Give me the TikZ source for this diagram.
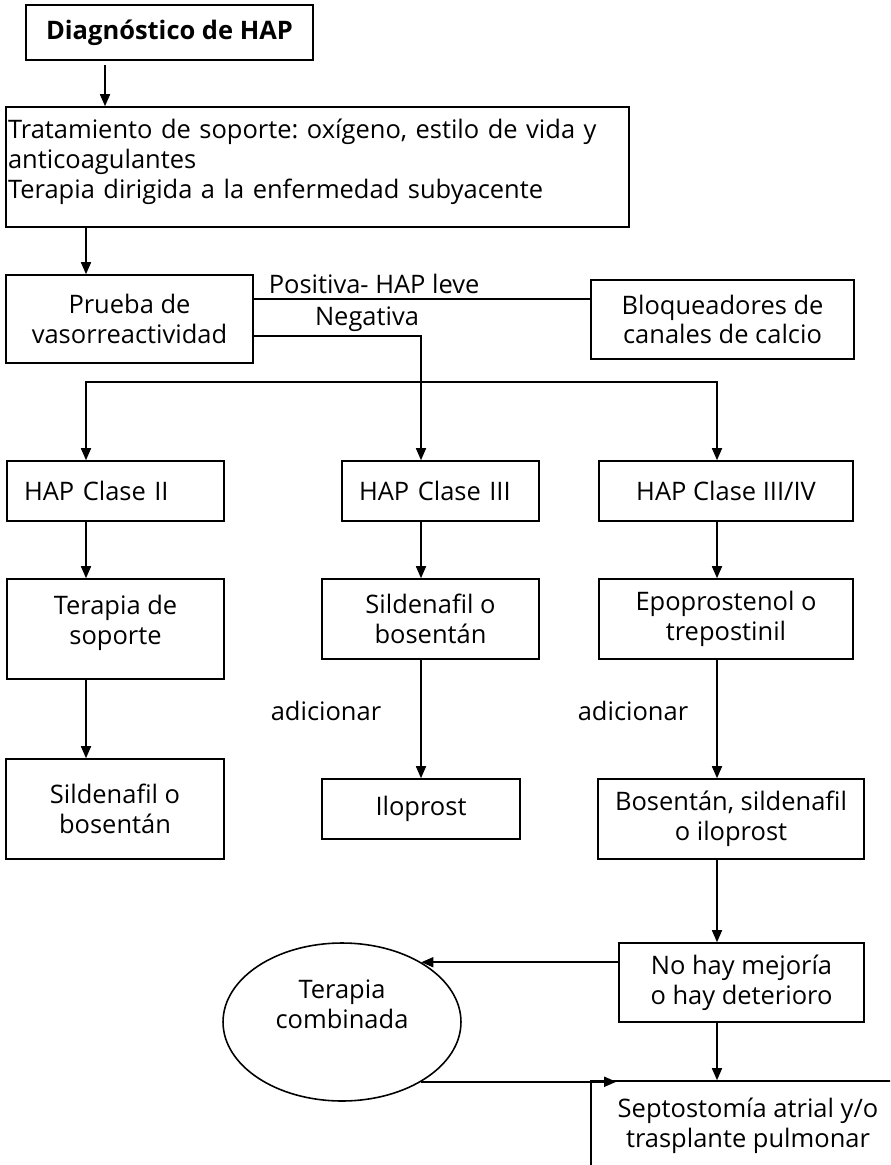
\documentclass[tikz,border=0pt]{standalone}
\usepackage{fontspec}
\setmainfont{Open Sans}
\usetikzlibrary{arrows.meta,shapes.geometric,positioning}
\newcommand\letra{\fontsize{14.5}{17}\selectfont\frenchspacing}

\begin{document}
\begin{tikzpicture}[x=0.02cm,y=-0.02cm,line width=0.9pt,font=\letra,
  caja/.style={draw,rectangle,inner sep=0pt,align=center},
  clase/.style={caja,minimum height=1.2cm},
  rotulo/.style={inner sep=0pt},
  flecha/.style={-{Triangle[length=0.24cm,width=0.2cm]}}]
\useasboundingbox (0,0) rectangle (890,1165);
\clip (0,0) rectangle (890,1165);

% cajas
\node[caja,minimum width=5.74cm,minimum height=1.1cm,font=\letra\bfseries] (diag) at (169.5,32.5) {Diagnóstico de HAP};
\node[caja,minimum width=12.46cm,minimum height=2.4cm,align=left,text width=12.38cm,text depth=1.52cm] (trat) at (317.5,167)
  {Tratamiento de soporte: oxígeno, estilo de vida y\\anticoagulantes\\Terapia dirigida a la enfermedad subyacente};
\node[caja,minimum width=4.94cm,minimum height=1.76cm] (prueba) at (129.5,319) {Prueba de\\vasorreactividad};
\node[caja,minimum width=5.26cm,minimum height=1.58cm] (bloq) at (722.5,319.5) {Bloqueadores de\\canales de calcio};

\node[clase,minimum width=4.34cm,align=left,text width=3.66cm] (hap2) at (115.5,491) {HAP Clase II};
\node[clase,minimum width=3.94cm,align=left,text width=3.26cm] (hap3) at (440.5,491) {HAP Clase III};
\node[clase,minimum width=5.08cm] (hap4) at (726,491) {HAP Clase III/IV};

\node[caja,minimum width=4.34cm,minimum height=2cm,text depth=0.38cm] (soporte) at (115.5,629) {Terapia de\\soporte};
\node[caja,minimum width=4.34cm,minimum height=1.6cm] (sild) at (430.5,619) {Sildenafil o\\bosentán};
\node[caja,minimum width=5.08cm,minimum height=1.6cm] (epo) at (726,619) {Epoprostenol o\\trepostinil};

\node[caja,minimum width=4.36cm,minimum height=2cm] (sildb) at (115,809) {Sildenafil o\\bosentán};
\node[clase,minimum width=3.96cm] (ilo) at (421,809) {Iloprost};
\node[caja,minimum width=5.32cm,minimum height=1.6cm] (bosen) at (731,819) {Bosentán, sildenafil\\o iloprost};

\node[caja,minimum width=4.9cm,minimum height=1.58cm] (nohay) at (741.5,982.5) {No hay mejoría\\o hay deterioro};
\node[draw,ellipse,inner sep=0pt,align=center,minimum width=4.76cm,minimum height=3.16cm,text depth=0.72cm] (comb) at (342,1022) {Terapia\\combinada};
\node[caja,minimum width=6.28cm,minimum height=1.78cm] (septo) at (748,1125.5) {Septostomía atrial y/o\\trasplante pulmonar};

% rotulos
\node[rotulo,anchor=base west] (pos) at (268,294) {Positiva- HAP leve};
\node[rotulo,anchor=base] (neg) at (367,326) {Negativa};
\node[rotulo,anchor=base west] (add1) at (270,720) {adicionar};
\node[rotulo,anchor=base west] (add2) at (577,720) {adicionar};

% conexiones
\draw[flecha] ([xshift=-1.29cm,yshift=-0.08cm]diag.south) -- ([xshift=-1.29cm]diag.south |- trat.north);
\draw[flecha] ([xshift=-0.87cm]prueba.north |- trat.south) -- ([xshift=-0.87cm]prueba.north);
\draw ([yshift=0.4cm]prueba.east) -- ([yshift=0.4cm]prueba.east -| bloq.west);
\draw[flecha] ([yshift=-0.34cm]prueba.east) -| ([xshift=-0.39cm]hap3.north);
\coordinate (reparto) at (421,382);
\draw[flecha] (reparto) -| ([xshift=-0.59cm]hap2.north);
\draw[flecha] (reparto) -| ([xshift=-0.18cm]hap4.north);
\foreach \a/\b/\s in {hap2/soporte/-0.59,hap3/sild/-0.39,hap4/epo/-0.18,soporte/sildb/-0.59,
  sild/ilo/-0.19,epo/bosen/-0.18,bosen/nohay/-0.28,nohay/septo/-0.49}
  \draw[flecha] ([xshift=\s cm]\a.south) -- ([xshift=\s cm]\a.south |- \b.north);
\draw[flecha] (nohay.west |- comb.37) -- (comb.37);
\draw[flecha] (comb.-37) -- ([xshift=0.52cm]comb.-37 -| septo.west);

\end{tikzpicture}
\end{document}
